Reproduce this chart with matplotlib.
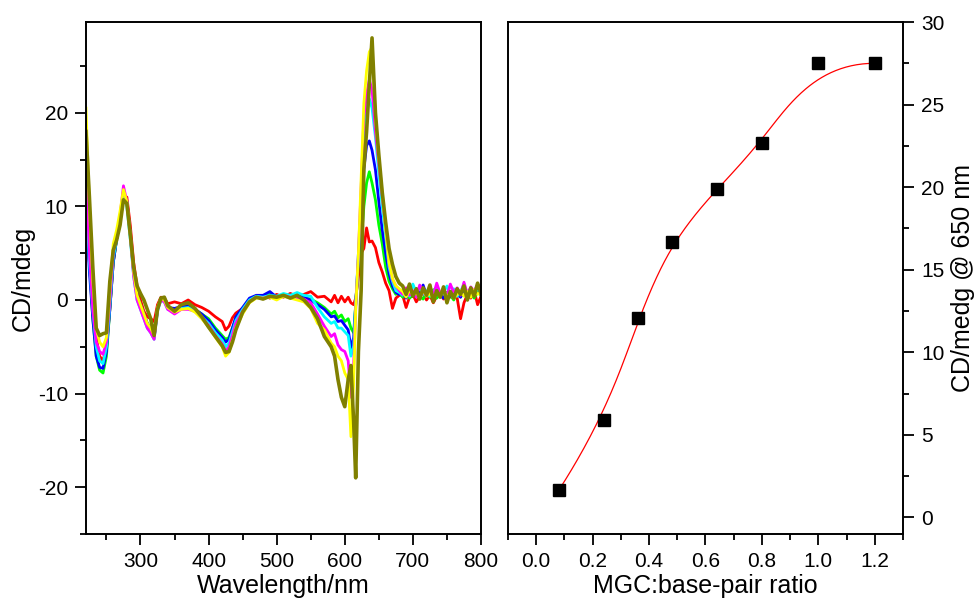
import numpy as np
import matplotlib
matplotlib.use('Agg')
import matplotlib.pyplot as plt
from matplotlib.ticker import MultipleLocator

plt.rcParams['font.family'] = ['Liberation Sans', 'DejaVu Sans']
plt.rcParams['axes.unicode_minus'] = False

# CD spectra, one trace per MGC loading
wavelength = [220, 225, 230, 235, 240, 245, 250, 255, 260, 265, 270, 275, 280, 285, 290, 295, 300, 305, 310, 315, 320, 325, 330, 335, 340,
              350, 360, 370, 380, 390, 400, 410, 420, 425, 430, 435, 440,
              450, 460, 470, 480, 490, 500, 510, 520, 530, 540, 550, 560,
              570, 580, 585, 590, 595, 600, 605, 609, 613, 616, 620, 624, 628, 632, 636, 640, 645, 650, 655, 660, 665, 670, 675, 680,
              685, 690, 695, 700, 705, 710, 715, 720, 725, 730, 735, 740, 745, 750, 755, 760, 765, 770, 775, 780, 785, 790, 795, 800]

cd_red = [9, 4, 0, -4, -6, -6.5, -5, -1, 4, 6.5, 8.5, 11, 11, 8, 4, 1.5, 0, -1.2, -1.8, -2, -2.3, -0.5, 0.3, 0.2, -0.4,
          -0.2, -0.4, 0, -0.5, -0.8, -1.2, -1.8, -2.3, -3.2, -2.8, -1.9, -1.4,
          -0.9, -0.2, 0.3, 0.5, 0.2, 0.6, 0.3, 0.7, 0.4, 0.6, 0.9, 0.3,
          0.4, -0.2, 0.5, -0.3, 0.4, -0.2, 0.3, -0.3, -0.5, 0.2, 2.5, 5, 5.5, 7.7, 6.2, 6.3, 5.6, 4, 3, 1.8, 1, -0.9, 0.2, 0.5,
          0.5, -0.8, 0.3, 0.6, -0.2, 0.4, 0.7, 0, 0.5, -0.3, 0.4, 0.8, 0.1, 0.5, 0.3, 0.9, 0.2, -2, -0.3, 0.6, 0.2, 1, -0.5, 0.4]
cd_green = [11, 4, -2, -6, -7.5, -7.8, -6, -1, 4, 6.5, 8.5, 10.8, 10.5, 7, 3, 0.5, -0.5, -1.5, -2.5, -3, -4, -1, 0.2, 0, -0.8,
            -1, -0.8, -0.7, -1, -1.5, -2, -3, -3.8, -4.2, -4, -3, -2,
            -1, 0, 0.4, 0.3, 0.6, 0.2, 0.4, 0.3, 0.5, 0.2, 0.1, -0.3,
            -0.8, -1.5, -1.2, -1.9, -1.6, -2.3, -2, -3, -3.5, -0.5, 4, 6, 10, 12.5, 13.7, 12.5, 10.7, 8, 6, 3.5, 2, 1.2, 0.6, 0.8,
            0.3, 0.8, 0.2, 0.5, 1, 0.4, 0.1, 0.7, 0.3, 1.1, 0.2, 0.6, 0.9, 0.2, 0.5, 0, 0.8, 0.3, 1.2, 0.4, 0.7, 0.2, 0.9, 0.5]
cd_blue = [10, 3, -2, -6, -7.2, -7.3, -5.5, -1, 4, 6.5, 8.5, 11, 10.5, 7, 3, 0.5, -0.5, -1.5, -2.5, -3, -4, -1, 0.2, 0, -0.8,
           -0.9, -0.7, -0.6, -1, -1.5, -2.2, -3.2, -4, -4.5, -4.2, -3, -1.8,
           -0.8, 0.2, 0.5, 0.5, 0.9, 0.3, 0.5, 0.3, 0.5, 0.3, 0, -0.5,
           -1, -1.8, -1.7, -2.3, -2.2, -2.7, -3.2, -5.1, -4, -0.5, 4.5, 8, 14, 16.5, 17, 16, 13.9, 10.5, 7.5, 5, 2.8, 1.5, 0.8, 0.6,
           0.8, 0.2, 0.9, 0.4, 1.2, 0.6, 1.6, 0.5, 0.8, 0.3, 1, 0.5, 0.2, 0.8, 0.4, 1, 0.6, 0.3, 0.9, 0.5, 1.1, 0.7, 1.4, 0.6]
cd_cyan = [12, 4, -1, -5, -6.5, -6.8, -5, -0.5, 4.5, 6.5, 8.5, 11.2, 10, 6.5, 2.5, 0, -1, -2, -3, -3.5, -4.2, -1.2, 0, -0.2, -1,
           -1.2, -0.9, -0.8, -1.2, -1.8, -2.5, -3.5, -4.3, -5, -4.6, -3.4, -2.2,
           -1, 0, 0.4, 0.3, 0.5, 0.4, 0.7, 0.5, 0.8, 0.5, 0.4, -0.8,
           -1.8, -2.5, -2.3, -3, -3, -3.4, -3.8, -6, -5, -0.5, 5, 10, 17, 20, 21.5, 20.5, 17.4, 13.5, 10, 6.8, 3.5, 2, 1, 0.8,
           0.5, 1, 0.4, 1.7, 0.8, 1.3, 0.6, 1, 0.4, 0.9, 1.3, 0.5, 0.8, 1.5, 0.7, 1.2, 0.4, 0.9, 1.7, 0.6, 1, 0.5, 1.3, 0.8]
cd_magenta = [14, 5, -1, -4.5, -5.5, -5.8, -4.5, 0, 5, 7, 9, 12.2, 10.5, 7, 2.5, 0, -1, -2, -3, -3.5, -4.2, -1, 0, -0.2, -1,
              -1.5, -1, -1, -1.2, -1.9, -2.7, -3.8, -4.7, -5.5, -5, -3.8, -2.5,
              -1.2, -0.2, 0.3, 0.2, 0.4, 0.1, 0.5, 0.3, 0.2, 0.1, -0.3, -1.5,
              -2.8, -3.9, -3.6, -4.8, -5.3, -5.5, -6.5, -10.4, -7, -1, 5, 12, 19.5, 22, 23.5, 22.5, 18, 14.5, 11, 7.8, 4, 2.2, 1.5, 1,
              0.6, 1.3, 0.5, 1, 0.3, 1.6, 0.9, 0.4, 1.2, 0.5, 1.8, 0.7, 1.1, 0.4, 1.7, 0.8, 1.3, 0.5, 1.9, 0.6, 1.4, 0.9, 1.7, 1.1]
cd_yellow = [20.5, 10, 2, -3, -4.5, -5, -4, 1, 6, 7.5, 9.5, 11.8, 10.5, 7, 3, 0.5, -0.5, -1.5, -2.5, -3, -3.8, -0.8, 0.2, 0, -0.8,
             -1.3, -1, -0.9, -1.3, -2, -2.9, -4, -5, -6, -5.6, -4.3, -3,
             -1.5, -0.3, 0.2, 0.2, 0.3, 0, 0.4, 0.2, 0, -0.2, -0.9, -2.5,
             -3.2, -4.6, -5, -6, -6.5, -7.8, -8.5, -14.6, -9, -1, 5, 13, 21, 24.5, 26.5, 27, 19.5, 15, 11.5, 7.5, 4, 2.3, 1.5, 1.2,
             0.9, 0.3, 1.1, 0.5, 0.8, 0.2, 1, 0.4, 0.7, 0.1, 0.9, 0.5, 1.2, 0.3, 0.8, 0.2, 0.6, 1, 0.4, 0.9, 0.3, 1.1, 0.6, 0.9]
cd_olive = [18, 11, 3.5, -3, -3.8, -3.6, -3.5, 2, 5.3, 6.4, 8, 10.7, 10.3, 7, 3.5, 1.5, 0.7, 0, -1, -2, -3.8, -1, 0.2, 0.3, -0.6,
            -1.2, -0.5, -0.3, -0.9, -1.8, -2.9, -3.9, -4.9, -5.6, -5.5, -4.5, -3.2,
            -1.3, -0.2, 0.3, 0.1, 0.4, 0.3, 0.5, 0.2, 0.5, 0, -0.8, -2,
            -3.9, -5, -6, -8.5, -10.4, -11.4, -8.5, -7, -13, -19, -5.5, 1, 14, 18, 23, 28, 20, 15.5, 11.5, 8.3, 5.5, 3.8, 2.5, 1.8,
            1.5, 0.6, 1.7, 0.4, 1.2, 0.1, 1.3, 0.5, 1.6, -0.2, 1, 0.3, 1.4, -0.3, 0.9, 0.2, 1.2, 0.6, 1.5, 0, 1.3, 0.4, 1.8, 0.7]

spectra = [cd_red, cd_green, cd_blue, cd_cyan, cd_magenta, cd_yellow, cd_olive]
spec_colors = ['#ff0000', '#00ff00', '#0000ff', '#00ffff', '#ff00ff', '#ffff00', '#808000']

# titration: CD signal at 650 nm vs dye:base-pair ratio
ratio = [0.08, 0.24, 0.36, 0.48, 0.64, 0.80, 1.00, 1.20]
cd650 = [1.65, 5.9, 12.1, 16.7, 19.9, 22.7, 27.5, 27.5]


def bspline(px, py, num=400, k=3):
    # clamped cubic B-spline using the data points as control points
    px = np.asarray(px, float)
    py = np.asarray(py, float)
    n = len(px)
    t = np.concatenate([np.zeros(k), np.linspace(0, 1, n - k + 1), np.ones(k)])
    u = np.linspace(0, 1, num)
    B = np.zeros((num, len(t) - 1))
    for i in range(len(t) - 1):
        B[:, i] = (t[i] <= u) & (u < t[i + 1])
    B[u == 1, :] = 0
    B[u == 1, n - 1] = 1
    for d in range(1, k + 1):
        Bn = np.zeros((num, len(t) - 1 - d))
        for i in range(len(t) - 1 - d):
            a = 0
            b = 0
            if t[i + d] > t[i]:
                a = (u - t[i]) / (t[i + d] - t[i]) * B[:, i]
            if t[i + d + 1] > t[i + 1]:
                b = (t[i + d + 1] - u) / (t[i + d + 1] - t[i + 1]) * B[:, i + 1]
            Bn[:, i] = a + b
        B = Bn
    return B @ px, B @ py


def style(ax):
    for s in ax.spines.values():
        s.set_linewidth(1.4)
    ax.tick_params(which='major', direction='out', length=8, width=1.3, labelsize=15, pad=5)
    ax.tick_params(which='minor', direction='out', length=4.5, width=1.3)


fig = plt.figure(figsize=(9.79, 6.09), dpi=100)
ax1 = fig.add_axes([86 / 979, 75 / 609, 395 / 979, 512 / 609])
ax2 = fig.add_axes([508 / 979, 75 / 609, 395 / 979, 512 / 609])

for vals, c in zip(spectra, spec_colors):
    lw = 2.6 if c == '#808000' else 2.0
    ax1.plot(wavelength, vals, color=c, lw=lw)

ax1.set_xlim(220, 800)
ax1.set_ylim(-25, 29.7)
ax1.xaxis.set_major_locator(MultipleLocator(100))
ax1.xaxis.set_minor_locator(MultipleLocator(50))
ax1.yaxis.set_major_locator(MultipleLocator(10))
ax1.yaxis.set_minor_locator(MultipleLocator(5))
style(ax1)
ax1.tick_params(which='both', top=False, right=False)
ax1.set_xlabel('Wavelength/nm', fontsize=18, labelpad=2)
ax1.set_ylabel('CD/mdeg', fontsize=18, labelpad=2)

sx, sy = bspline(ratio, cd650)
ax2.plot(sx, sy, color='#ff0000', lw=0.9, zorder=2)
ax2.plot(ratio, cd650, 's', color='black', ms=8.5, zorder=3)

ax2.set_xlim(-0.1, 1.3)
ax2.set_ylim(-1, 30)
ax2.xaxis.set_major_locator(MultipleLocator(0.2))
ax2.xaxis.set_minor_locator(MultipleLocator(0.1))
ax2.yaxis.set_major_locator(MultipleLocator(5))
ax2.yaxis.set_minor_locator(MultipleLocator(2.5))
ax2.xaxis.set_major_formatter(plt.FuncFormatter(lambda v, p: f'{v:.1f}'))
ax2.yaxis.tick_right()
ax2.yaxis.set_label_position('right')
style(ax2)
ax2.tick_params(which='both', left=False, top=False)
ax2.set_xlabel('MGC:base-pair ratio', fontsize=18, labelpad=2)
ax2.set_ylabel('CD/medg @ 650 nm', fontsize=18, labelpad=5)

fig.savefig('out.png', dpi=100)
